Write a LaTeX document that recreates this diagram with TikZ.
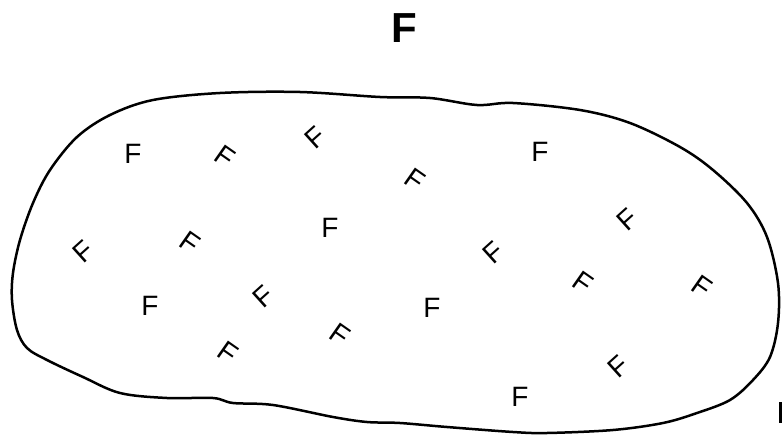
\documentclass[tikz,border=0pt]{standalone}
\usepackage{fontspec}
\setmainfont{Liberation Sans}
\begin{document}
\begin{tikzpicture}[x=1pt,y=-1pt,
  letter/.style={font=\fontsize{28}{30}\selectfont, inner sep=0pt},
  tiltA/.style={letter, rotate=-35},
  tiltB/.style={letter, rotate=42},
  outline/.style={line width=2.5pt, line join=round}]
\useasboundingbox (0,0) rectangle (782,436);
\fill[white] (0,0) rectangle (782,436);
% title
\node[font=\bfseries\fontsize{42}{44}\selectfont, inner sep=0pt] (title) at (404,28) {F};
% blob
\draw[outline] plot[smooth cycle, tension=0.55] coordinates {
 (153,100) (220,93) (300,92) (380,97) (430,98) (477,105) (513,103) (580,110)
 (630,123) (680,147) (713,170) (747,203) (767,237) (778,283) (778,323)
 (770,357) (753,380) (730,400) (697,413) (663,423) (613,430) (547,433)
 (513,432) (447,427) (400,423) (367,422) (333,417) (273,405) (233,403)
 (213,398) (167,398) (120,393) (83,377) (47,360) (27,348) (17,330)
 (12,300) (13,273) (20,240) (33,203) (50,170) (77,137) (110,115)};
% letters
\node[letter] (a) at (133,154) {F};
\node[tiltA]  (b) at (225,157) {F};
\node[tiltB]  (c) at (315,138) {F};
\node[tiltA]  (d) at (415,180) {F};
\node[letter] (e) at (540,152) {F};
\node[tiltB]  (f) at (627,220) {F};
\node[tiltB]  (g) at (83,252) {F};
\node[tiltA]  (h) at (190,243) {F};
\node[letter] (i) at (330,228) {F};
\node[tiltB]  (j) at (493,253) {F};
\node[tiltA]  (k) at (583,283) {F};
\node[tiltA]  (l) at (702,287) {F};
\node[letter] (m) at (150,306) {F};
\node[tiltB]  (n) at (263,297) {F};
\node[tiltA]  (o) at (340,335) {F};
\node[letter] (p) at (432,308) {F};
\node[tiltA]  (q) at (228,353) {F};
\node[tiltB]  (r) at (618,367) {F};
\node[letter] (s) at (520,397) {F};
% cut-off stroke at the right edge
\draw[line width=3pt] (780,402) -- (780,423);
\end{tikzpicture}
\end{document}
